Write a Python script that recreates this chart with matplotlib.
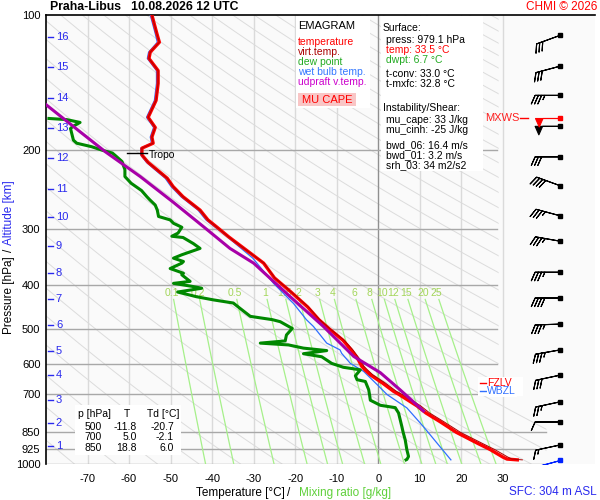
import numpy as np
import matplotlib
matplotlib.use("Agg")
import matplotlib.pyplot as plt
from matplotlib.patches import Rectangle, Polygon

plt.rcParams['font.family'] = ['Liberation Sans', 'DejaVu Sans']
plt.rcParams['axes.unicode_minus'] = False

W, H = 600, 500

# ---- sounding data ----
temp_p = [100, 110, 115, 121, 125, 133, 142, 155, 169, 178,
          187, 193, 198, 205, 213, 221, 231, 241, 254, 272,
          286, 297, 312, 330, 357, 385, 414, 447, 477, 500,
          530, 557, 586, 605, 617, 633, 660, 689, 700, 742,
          770, 805, 850, 900, 929, 965, 975, 979]
temp_t = [-54.5, -53.3, -52.7, -54.9, -55.2, -53.0, -53.0, -53.5, -55.4, -53.7,
          -54.5, -54.2, -56.9, -56.9, -55.4, -53.3, -50.8, -49.4, -47.0, -42.9,
          -41.0, -38.8, -36.0, -32.5, -27.6, -25.0, -21.0, -17.0, -14.3, -11.8,
          -8.5, -6.5, -4.8, -4.0, -3.2, -1.9, 1.0, 3.7, 5.0, 9.3,
          11.5, 14.9, 18.8, 24.0, 27.0, 30.0, 31.0, 33.5]
virt_t = [-54.5, -53.3, -52.7, -54.9, -55.2, -53.0, -53.0, -53.5, -55.4, -53.7,
          -54.5, -54.2, -56.9, -56.9, -55.4, -53.3, -50.8, -49.4, -47.0, -42.9,
          -41.0, -38.8, -36.0, -32.5, -27.5, -24.9, -20.9, -16.8, -14.1, -11.6,
          -8.2, -6.1, -4.3, -3.5, -2.6, -1.3, 1.7, 4.4, 5.8, 10.2,
          12.4, 15.8, 19.8, 25.1, 28.1, 31.2, 32.2, 34.7]

dew_p = [170, 171, 173.5, 177, 179, 190, 193, 196.5, 200, 203,
         206, 212, 221, 229, 237, 246, 254, 258, 265, 272,
         281, 286, 291, 297, 306, 311, 313, 323, 331, 342,
         348, 354, 357, 367, 376, 379, 392, 396, 402, 406,
         414, 424, 431, 438, 450, 469, 477, 482, 499, 516,
         532, 538, 543, 552, 559, 568, 577, 597, 609, 617,
         636, 649, 655, 683, 700, 721, 740, 749, 770, 826,
         850, 884, 930, 962, 977, 979]
dew_t = [-79.3, -75.0, -71.8, -73.5, -74.1, -73.4, -72.6, -69.0, -66.5, -64.0,
         -63.2, -61.7, -61.0, -61.0, -59.5, -57.0, -55.7, -55.0, -53.7, -53.2,
         -52.9, -50.1, -49.3, -47.3, -48.2, -49.7, -47.0, -44.5, -42.9, -47.3,
         -49.3, -46.9, -47.3, -50.1, -46.9, -47.3, -45.3, -49.3, -44.9, -42.5,
         -48.3, -43.8, -39.7, -34.9, -33.3, -30.8, -25.5, -23.6, -20.7, -22.1,
         -22.4, -28.4, -21.6, -18.0, -12.4, -18.0, -13.6, -11.2, -8.4, -4.3,
         -5.5, -5.1, -3.1, -2.3, -2.1, -1.9, 0.5, 4.1, 4.9, 5.7,
         6.0, 6.5, 6.9, 7.3, 6.9, 6.7]

wb_p = [100, 110, 115, 121, 125, 133, 142, 155, 169, 178,
        187, 193, 198, 205, 213, 221, 231, 241, 254, 272,
        286, 311, 348, 396, 439, 477, 494, 538, 557, 567,
        597, 622, 665, 700, 750, 826, 897, 979]
wb_t = [-54.9, -53.7, -53.2, -55.3, -55.6, -53.4, -53.4, -53.9, -55.8, -54.1,
        -54.9, -54.6, -57.2, -57.2, -55.8, -53.8, -51.3, -49.9, -47.5, -43.4,
        -41.5, -36.5, -30.2, -25.2, -20.4, -17.3, -15.6, -12.4, -9.2, -8.8,
        -6.7, -3.5, -0.3, 2.1, 6.9, 10.9, 14.1, 17.5]

parcel_p = [157, 182, 202, 229, 261, 296, 331, 357, 424, 494, 576, 626, 684, 762]
parcel_t = [-80.5, -71.8, -65.6, -57.3, -49.4, -42.1, -35.7, -30.0, -21.2, -13.2,
            -5.9, 0.5, 5.3, 10.9]

# wind barbs (one per km + surface)
wind_p = [111, 130, 151, 177, 207, 240, 280, 319, 374, 427, 488, 557, 634, 727, 806, 907]
wind_spd = [30, 30, 35, 50, 30, 40, 35, 35, 35, 40, 35, 35, 30, 25, 10, 15]
wind_dir = [250, 255, 270, 270, 270, 290, 285, 280, 270, 270, 268, 260, 258, 258, 270, 258]
sfc_wind = (979, 5, 255)
mxws_wind = (170, 50, 270)

alt_km = list(range(1, 17))
alt_p = [912, 810, 720, 634, 560, 490, 429, 375, 327, 282, 244, 208, 178.5, 153, 130.5, 112]

p_levels = [100, 200, 300, 400, 500, 600, 700, 850, 925, 1000]
t_ticks = [-70, -60, -50, -40, -30, -20, -10, 0, 10, 20, 30]
mix_ratios = [0.1, 0.2, 0.5, 1, 1.5, 2, 3, 4, 6, 8, 10, 12, 15, 20, 25]
mix_labels = ['0.1', '0.2', '0.5', '1', '1.5', '2', '3', '4', '6', '8', '10', '12', '15', '20', '25']

table_p = [500, 700, 850]
table_t = [-11.8, 5.0, 18.8]
table_td = [-20.7, -2.1, 6.0]

# ---- figure ----
fig = plt.figure(figsize=(6, 5), dpi=100)
ax = fig.add_axes([46 / W, 1 - 464 / H, 549 / W, 449 / H])
ax.set_facecolor('#fafafa')
ax.set_yscale('log')
ax.set_ylim(1000, 100)
ax.set_xlim(-80, 52.2)
for s in ['right', 'bottom']:
    ax.spines[s].set_visible(False)
ax.spines['left'].set_linewidth(1.2)
ax.spines['top'].set_linewidth(1.2)

ax.yaxis.set_minor_locator(matplotlib.ticker.NullLocator())
ax.set_yticks(p_levels)
ax.set_yticklabels([str(p) for p in p_levels], fontsize=8)
ax.set_xticks(t_ticks)
ax.set_xticklabels([str(t) for t in t_ticks], fontsize=8)
ax.tick_params(axis='both', length=0)
ax.tick_params(axis='y', pad=4)
ax.tick_params(axis='x', pad=7)


def fx(x):
    return x / W


def fy(y):
    return 1 - y / H


def box(x0, y0, x1, y1, color='white', z=3):
    ax.add_patch(Rectangle((fx(x0), fy(y1)), fx(x1) - fx(x0), fy(y0) - fy(y1),
                           transform=fig.transFigure, facecolor=color,
                           edgecolor='none', zorder=z, clip_on=False))


def txt(x, y, s, **kw):
    kw.setdefault('fontsize', 7.5)
    kw.setdefault('va', 'center')
    kw.setdefault('zorder', 8)
    ax.text(fx(x), fy(y), s, transform=fig.transFigure, **kw)


# diagram area for adiabats
clip = Polygon([(-80, 100), (29, 100), (29, 720), (40.5, 800), (40.5, 1000), (-80, 1000)],
               closed=True, transform=ax.transData, facecolor='none', edgecolor='none')
ax.add_patch(clip)

pp = np.linspace(100, 1000, 200)
for theta in range(190, 600, 10):
    tt = theta * (pp / 1000.0) ** 0.286 - 273.15
    ln, = ax.plot(tt, pp, color='#dcdcdc', lw=0.7, zorder=1)
    ln.set_clip_path(clip)

# vertical and horizontal grid
for t in t_ticks:
    ax.plot([t, t], [100, 1000], color='#909090' if t == 0 else '#dadada', lw=1, zorder=1.5)
grid_end = {200: 28.5, 300: 28.5, 400: 28.5, 500: 28.5, 600: 28.5, 700: 29,
            850: 40.5, 925: 37.8, 1000: 40.2}
for p in p_levels[1:]:
    ax.plot([-80, grid_end[p]], [p, p], color='#a8a8a8', lw=1, zorder=1.5)

# mixing ratio lines
pm = np.linspace(430, 1000, 60)
for w, lab in zip(mix_ratios, mix_labels):
    e = w * pm / (622.0 + w)
    lg = np.log(e / 6.112)
    td = 243.5 * lg / (17.67 - lg)
    ax.plot(td, pm, color='#a6f08a', lw=0.9, zorder=1.8)
    e0 = w * 415 / (622.0 + w)
    l0 = np.log(e0 / 6.112)
    ax.text(243.5 * l0 / (17.67 - l0), 415, lab, color='#a3d65a', fontsize=7.5,
            ha='center', va='center', zorder=2)

# altitude ticks
ytr = ax.get_yaxis_transform()
for km, p in zip(alt_km, alt_p):
    ax.plot([0.004, 0.013], [p, p], color='#2a2aee', lw=1, transform=ytr, clip_on=False, zorder=6)
    ax.text(0.018, p, str(km), color='#2a2aee', fontsize=8, va='center', transform=ytr, zorder=6)

# boxes
box(296, 15.5, 370, 108)
box(381, 15.5, 483, 171)
box(75, 405, 181, 455)
box(478, 377, 523, 396)
box(298, 93, 356, 106, color='#f9c6c6', z=3.5)

# profiles
ax.plot(wb_t, wb_p, color='#2f6fff', lw=0.9, zorder=4)
ax.plot(dew_t, dew_p, color='#008800', lw=2.2, zorder=4.5)
ax.plot(temp_t, temp_p, color='#ff0000', lw=2.4, zorder=5)
ax.plot(virt_t, temp_p, color='#b00000', lw=0.7, zorder=5.2)
ax.plot(parcel_t, parcel_p, color='#a800a8', lw=2.2, zorder=5.5)

# tropopause
ax.plot([-60.4, -55.6], [203, 203], color='k', lw=1, zorder=6)
ax.text(-55.2, 205, 'Tropo', fontsize=7.5, va='center', zorder=6)

# wind barbs
bx = 43.8
rad = np.deg2rad(wind_dir)
spd = np.array(wind_spd, dtype=float)
u = -spd * np.sin(rad)
v = -spd * np.cos(rad)
bsizes = dict(spacing=0.13, height=0.34, width=0.3)
bkw = dict(length=6, linewidth=0.8, sizes=bsizes, flip_barb=True)
ax.barbs(np.full(len(wind_p), bx), wind_p, u, v, color='k', zorder=7, **bkw)
ax.plot(np.full(len(wind_p), bx), wind_p, 's', ms=2.4, color='k', zorder=7)

r = np.deg2rad(sfc_wind[2])
ax.barbs([bx], [sfc_wind[0]], [-sfc_wind[1] * np.sin(r)], [-sfc_wind[1] * np.cos(r)],
         color='#0022ff', zorder=7, **bkw)
ax.plot([bx], [sfc_wind[0]], 's', ms=2.4, color='#0022ff', zorder=7)

r = np.deg2rad(mxws_wind[2])
ax.barbs([bx], [mxws_wind[0]], [-mxws_wind[1] * np.sin(r)], [-mxws_wind[1] * np.cos(r)],
         color='#ff0000', zorder=7.5, **bkw)
ax.plot([bx], [mxws_wind[0]], 's', ms=2.4, color='#ff0000', zorder=7.5)
ax.plot([34.2, 36.1], [170, 170], color='#ff0000', lw=1, zorder=7)
ax.text(34.0, 170, 'MXWS', color='#ff2020', fontsize=8, ha='right', va='center', zorder=7)

# freezing levels
ax.plot([24.6, 26.0], [660, 660], color='#ff0000', lw=1, zorder=8)
ax.text(26.3, 660, 'FZLV', color='#ff0000', fontsize=7.5, va='center', zorder=8)
ax.plot([24.6, 26.0], [688, 688], color='#3070ff', lw=1, zorder=9)
ax.text(26.3, 688, 'WBZL', color='#3070ff', fontsize=7.5, va='center', zorder=9,
        bbox=dict(facecolor='white', edgecolor='none', pad=0.4))

# legend box texts
txt(298, 26, 'EMAGRAM', fontsize=8)
txt(298, 42, 'temperature', color='#ff0000')
txt(298, 52, 'virt.temp.', color='#aa0000')
txt(298, 62, 'dew point', color='#22aa22')
txt(298, 72, 'wet bulb temp.', color='#3377ff')
txt(298, 82, 'udpraft v.temp.', color='#cc00cc')
txt(327, 100, 'MU CAPE', color='#ff0000', fontsize=8, ha='center')

# surface / instability texts
txt(383, 28, 'Surface:')
txt(386, 40, 'press: 979.1 hPa')
txt(386, 50, 'temp: 33.5 \u00b0C', color='#ff0000')
txt(386, 60, 'dwpt: 6.7 \u00b0C', color='#22aa22')
txt(386, 74, 't-conv: 33.0 \u00b0C')
txt(386, 84, 't-mxfc: 32.8 \u00b0C')
txt(383, 108, 'Instability/Shear:')
txt(386, 120, 'mu_cape: 33 J/kg')
txt(386, 130, 'mu_cinh: -25 J/kg')
txt(386, 145, 'bwd_06: 16.4 m/s')
txt(386, 155, 'bwd_01: 3.2 m/s')
txt(386, 165, 'srh_03: 34 m2/s2')

# level table
txt(78, 414, 'p [hPa]')
txt(127, 414, 'T', ha='center')
txt(147, 414, 'Td [\u00b0C]')
for i, (p, t, td) in enumerate(zip(table_p, table_t, table_td)):
    y = 427 + 10.5 * i
    txt(93, y, str(p), ha='center')
    txt(137, y, f'{t:.1f}', ha='right')
    txt(174, y, f'{td:.1f}', ha='right')

# titles and axis labels
fig.text(fx(50), fy(7), 'Praha-Libus   10.08.2026 12 UTC', fontsize=8.8,
         fontweight='bold', va='center')
fig.text(fx(597), fy(7), 'CHMI \u00a9 2026', fontsize=8.5, color='#ff0000',
         ha='right', va='center')
fig.text(fx(9), fy(213), 'Altitude [km]', rotation=90, color='#2a2aee',
         fontsize=8.5, ha='center', va='center')
fig.text(fx(9), fy(250), '/', rotation=90, fontsize=8.5, ha='center', va='center')
fig.text(fx(9), fy(295), 'Pressure [hPa]', rotation=90, fontsize=8.5,
         ha='center', va='center')
fig.text(fx(240), fy(493), 'Temperature [\u00b0C]', fontsize=8.5, ha='center', va='center')
fig.text(fx(289), fy(493), '/', fontsize=8.5, ha='center', va='center')
fig.text(fx(345), fy(493), 'Mixing ratio [g/kg]', fontsize=8.5, color='#5fd03a',
         ha='center', va='center')
fig.text(fx(597), fy(492), 'SFC: 304 m ASL', fontsize=8.5, color='#2a2aee',
         ha='right', va='center')

fig.savefig('out.png', dpi=100)
